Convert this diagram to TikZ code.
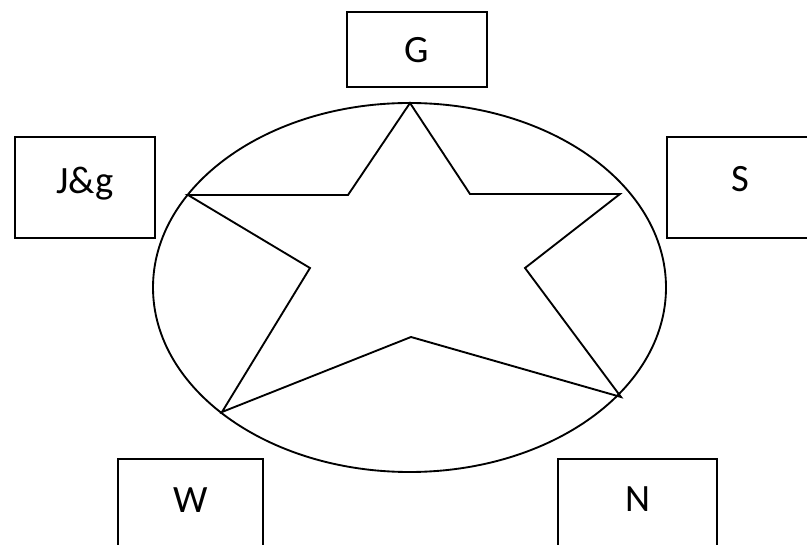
\documentclass[tikz,border=0pt]{standalone}
\usepackage{fontspec}
\setmainfont{Carlito}
\usetikzlibrary{shapes.geometric}
\begin{document}
\begin{tikzpicture}[x=0.75pt,y=-0.75pt,
  lbl/.style={draw,line width=1.4pt,inner sep=0pt,font=\fontsize{29}{33}\selectfont,
    text height=0.644em,text depth=0pt,minimum height=76pt},
  edge/.style={line width=1.4pt,line join=miter}]
\useasboundingbox (0,0) rectangle (807,545);
\node[lbl,minimum width=105pt,minimum height=56pt] (G) at (417,49.5) {\raisebox{-6.5pt}{G}};
\node[lbl,minimum width=105pt] (J) at (85,187.5) {\raisebox{-1.2pt}{J\&g}};
\node[lbl,minimum width=109.5pt] (S) at (740,187.5) {\raisebox{0.5pt}{S}};
\node[lbl,minimum width=108.75pt] (W) at (190.5,509.5) {\raisebox{1pt}{W}};
\node[lbl,minimum width=119.25pt] (N) at (637.5,509.5) {\raisebox{1.4pt}{N}};
\node[draw,ellipse,line width=1.4pt,inner sep=0pt,minimum width=384.75pt,minimum height=276.75pt] (E) at (409.5,287.5) {};
\coordinate (t1) at (410,103);
\coordinate (i1) at (470,194);
\coordinate (t2) at (620,194);
\coordinate (i2) at (525,268);
\coordinate (t3) at (621,397);
\coordinate (i3) at (411,337);
\coordinate (t4) at (222,412);
\coordinate (i4) at (310,268);
\coordinate (t5) at (188,195);
\coordinate (i5) at (348,195);
\draw[edge] (t1) -- (i1) -- (t2) -- (i2) -- (t3) -- (i3) -- (t4) -- (i4) -- (t5) -- (i5) -- cycle;
\end{tikzpicture}
\end{document}
